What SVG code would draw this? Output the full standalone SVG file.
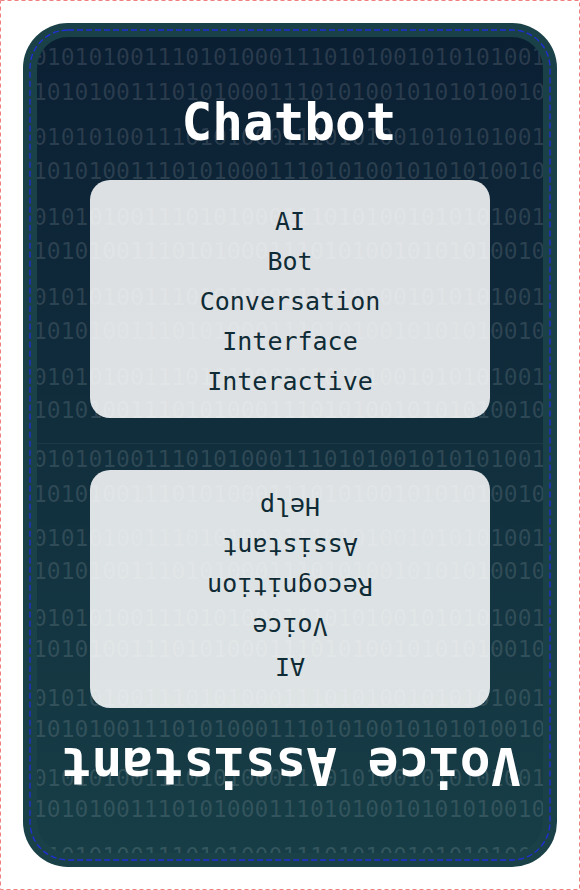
<svg xmlns="http://www.w3.org/2000/svg" width="580" height="890" viewBox="0 0 580 890">
<style>
.bin { font-family: "DejaVu Sans Mono", monospace; font-size: 23px; fill: #ffffff; fill-opacity: 0.13; }
.title { font-family: "DejaVu Sans Mono", monospace; font-weight: bold; font-size: 51px; fill: #ffffff; text-anchor: middle; }
.item { font-family: "DejaVu Sans Mono", monospace; font-size: 25px; fill: #0f2b35; text-anchor: middle; }
.box { fill: #ffffff; fill-opacity: 0.86; }
</style>
<defs>
<linearGradient id="bg" x1="0" y1="37" x2="0" y2="853" gradientUnits="userSpaceOnUse">
<stop offset="0" stop-color="#0b1f33"/>
<stop offset="1" stop-color="#173e47"/>
</linearGradient>
<clipPath id="innerClip"><rect x="37" y="37" width="506" height="816" rx="31"/></clipPath>
</defs>
<rect x="0.5" y="0.5" width="579" height="889" fill="none" stroke="#f08080" stroke-width="1" stroke-dasharray="4 3"/>
<g id="card">
<rect x="23" y="23" width="534" height="844" rx="45" fill="#1b4148"/>
<rect x="37" y="37" width="506" height="816" rx="31" fill="url(#bg)"/>
<g clip-path="url(#innerClip)">
<text class="bin" x="33" y="64.5">01010100111010100011101010010101010010</text>
<text class="bin" x="33" y="99.5">10101001110101000111010100101010100101</text>
<text class="bin" x="33" y="144.5">01010100111010100011101010010101010010</text>
<text class="bin" x="33" y="178.5">10101001110101000111010100101010100101</text>
<text class="bin" x="33" y="224.5">01010100111010100011101010010101010010</text>
<text class="bin" x="33" y="258.5">10101001110101000111010100101010100101</text>
<text class="bin" x="33" y="304.5">01010100111010100011101010010101010010</text>
<text class="bin" x="33" y="338.5">10101001110101000111010100101010100101</text>
<text class="bin" x="33" y="384.5">01010100111010100011101010010101010010</text>
<text class="bin" x="33" y="417.5">10101001110101000111010100101010100101</text>
<text class="bin" x="33" y="467">01010100111010100011101010010101010010</text>
<text class="bin" x="33" y="501.5">10101001110101000111010100101010100101</text>
<text class="bin" x="33" y="545.5">01010100111010100011101010010101010010</text>
<text class="bin" x="33" y="578.5">10101001110101000111010100101010100101</text>
<text class="bin" x="33" y="625.5">01010100111010100011101010010101010010</text>
<text class="bin" x="33" y="656.5">10101001110101000111010100101010100101</text>
<text class="bin" x="33" y="705.5">01010100111010100011101010010101010010</text>
<text class="bin" x="33" y="736.5">10101001110101000111010100101010100101</text>
<text class="bin" x="33" y="785.5">01010100111010100011101010010101010010</text>
<text class="bin" x="33" y="816.5">10101001110101000111010100101010100101</text>
<text class="bin" x="33" y="863.5">01010100111010100011101010010101010010</text>
</g>
<line x1="37" y1="443.5" x2="543" y2="443.5" stroke="#ffffff" stroke-opacity="0.05" stroke-width="1"/>
<rect x="30" y="30" width="520" height="830" rx="38" fill="none" stroke="#1f2fd8" stroke-width="1.3" stroke-dasharray="6 3"/>
</g>
<g id="front">
<text class="title" x="289" y="140">Chatbot</text>
<g id="front-box">
<rect class="box" x="90" y="180" width="400" height="238" rx="20"/>
<text class="item" x="290" y="230">AI</text>
<text class="item" x="290" y="270">Bot</text>
<text class="item" x="290" y="310">Conversation</text>
<text class="item" x="290" y="350">Interface</text>
<text class="item" x="290" y="390">Interactive</text>
</g>
</g>
<g id="back" transform="rotate(180 290 444)">
<text class="title" x="289" y="140">Voice Assistant</text>
<g id="back-box">
<rect class="box" x="90" y="180" width="400" height="238" rx="20"/>
<text class="item" x="290" y="230">AI</text>
<text class="item" x="290" y="270">Voice</text>
<text class="item" x="290" y="310">Recognition</text>
<text class="item" x="290" y="350">Assistant</text>
<text class="item" x="290" y="390">Help</text>
</g>
</g>
</svg>
